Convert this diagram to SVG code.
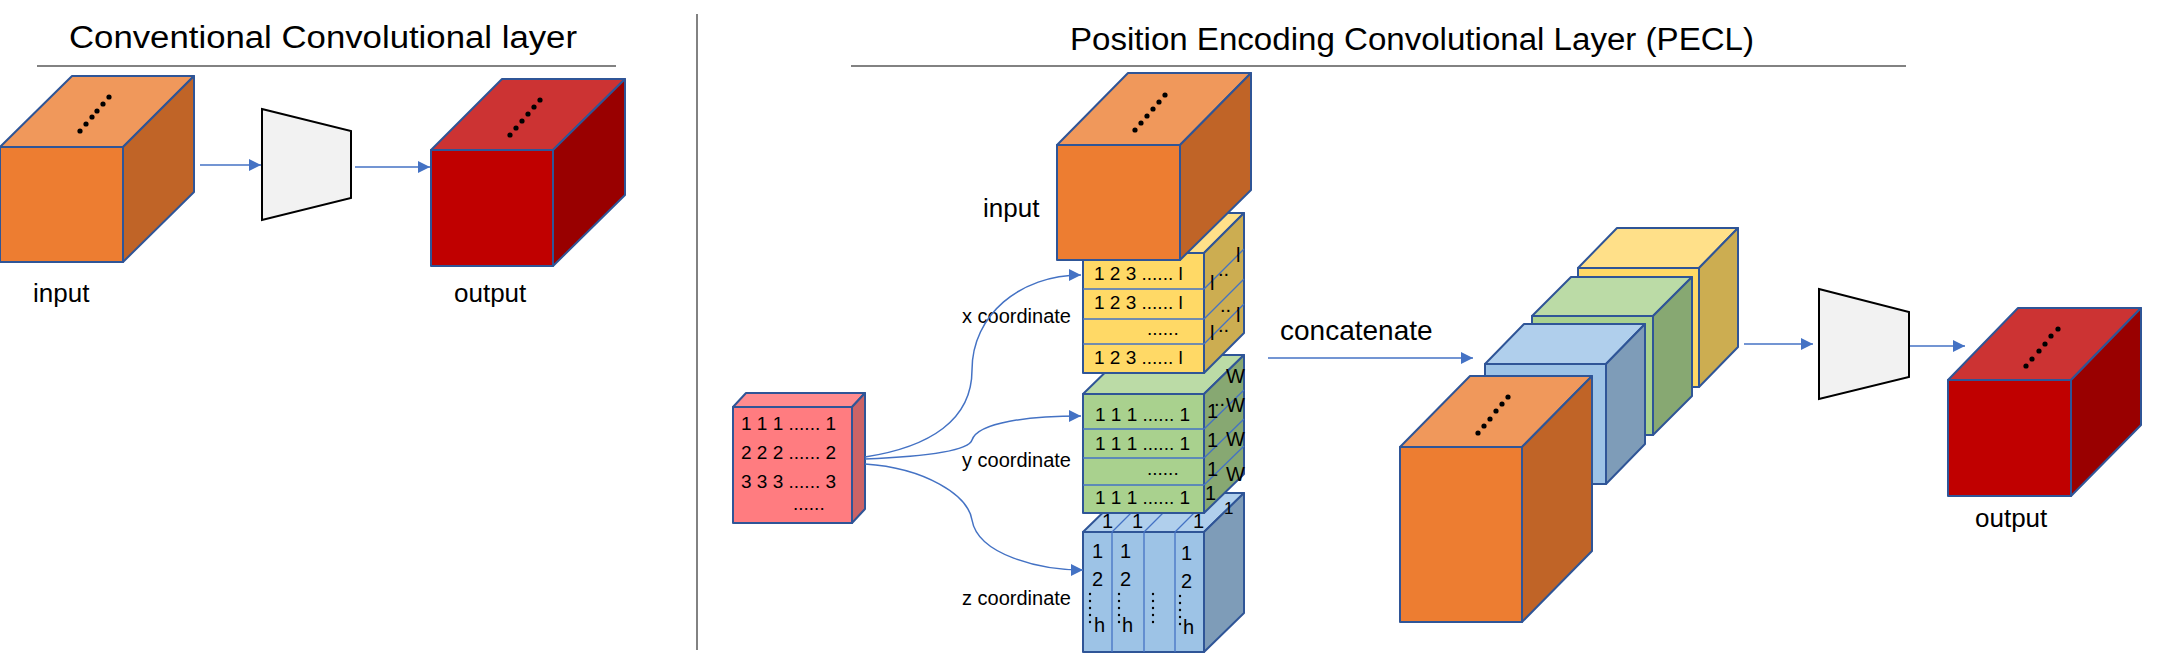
<svg xmlns="http://www.w3.org/2000/svg" width="2166" height="662" viewBox="0 0 2166 662">
<style>
text{font-family:"Liberation Sans",Arial,sans-serif;fill:#000}
.t{font-size:31px}
.lb{font-size:26px}
.sm{font-size:20px}
.cn{font-size:19px}
.s{stroke:#2F5597;stroke-width:2;stroke-linejoin:round}
.s1{stroke:#4472C4;stroke-width:1.3}
.con{fill:none;stroke:#4472C4;stroke-width:1.5}
.trap{fill:#F2F2F2;stroke:#000;stroke-width:2}
.of{fill:#ED7D31}.ot{fill:#F0985B}.os{fill:#C06427}
.rf{fill:#C00000}.rt{fill:#CC3333}.rs{fill:#990000}
.yf{fill:#FFD966}.yt{fill:#FFE089}.ys{fill:#CCAD51}
.gf{fill:#A9D18E}.gt{fill:#BBDBA6}.gs{fill:#87A872}
.bf{fill:#9DC3E6}.bt{fill:#B0CFEC}.bs{fill:#7E9CB8}
.pf{fill:#FF7C80}.pt{fill:#FF8C8F}.ps{fill:#CC6366}
.dot{fill:#000}
</style>
<defs>
<marker id="ah2" viewBox="0 0 10 10" refX="10" refY="5" markerWidth="8" markerHeight="8" orient="auto" markerUnits="strokeWidth"><path d="M0,0L10,5L0,10z" fill="#4472C4"/></marker>
</defs>

<g id="titles">
<text class="t" x="69" y="48" textLength="508" lengthAdjust="spacingAndGlyphs">Conventional Convolutional layer</text>
<line x1="37" y1="66" x2="616" y2="66" stroke="#595959" stroke-width="1.5"/>
<line x1="697" y1="14" x2="697" y2="650" stroke="#595959" stroke-width="1.5"/>
<text class="t" x="1070" y="50" textLength="684" lengthAdjust="spacingAndGlyphs">Position Encoding Convolutional Layer (PECL)</text>
<line x1="851" y1="66" x2="1906" y2="66" stroke="#595959" stroke-width="1.5"/>
</g>

<g id="left-input">
<polygon class="ot s" points="0,147 72,76 194,76 123,147"/>
<polygon class="os s" points="123,147 194,76 194,192 123,262"/>
<rect class="of s" x="0" y="147" width="123" height="115"/>
<g class="dot"><circle cx="80" cy="131" r="2.6"/><circle cx="86" cy="124" r="2.6"/><circle cx="92" cy="117" r="2.6"/><circle cx="97" cy="111" r="2.6"/><circle cx="103" cy="104" r="2.6"/><circle cx="109" cy="97" r="2.6"/></g>
<text class="lb" x="33" y="302">input</text>
</g>
<g id="left-conv"><polygon class="trap" points="262,109 351,131 351,198 262,220"/></g>
<g id="left-output">
<polygon class="rt s" points="431,150 502,79 625,79 553,150"/>
<polygon class="rs s" points="553,150 625,79 625,195 553,266"/>
<rect class="rf s" x="431" y="150" width="122" height="116"/>
<g class="dot"><circle cx="510" cy="135" r="2.6"/><circle cx="516" cy="128" r="2.6"/><circle cx="522" cy="121" r="2.6"/><circle cx="528" cy="114" r="2.6"/><circle cx="534" cy="107" r="2.6"/><circle cx="540" cy="100" r="2.6"/></g>
<text class="lb" x="454" y="302">output</text>
</g>

<g id="z-block">
<polygon class="bt s" points="1083,532 1123,493 1244,493 1204,532"/>
<polygon class="bs s" points="1204,532 1244,493 1244,613 1204,652"/>
<rect class="bf s" x="1083" y="532" width="121" height="120"/>
<g class="s1"><line x1="1112" y1="532" x2="1112" y2="652"/><line x1="1144" y1="532" x2="1144" y2="652"/><line x1="1175" y1="532" x2="1175" y2="652"/>
<line x1="1112" y1="532" x2="1151" y2="493"/><line x1="1144" y1="532" x2="1183" y2="493"/><line x1="1175" y1="532" x2="1214" y2="493"/></g>
<text class="sm" x="1102" y="528">1</text><text class="sm" x="1132" y="528">1</text><text class="sm" x="1193" y="528">1</text><text class="sm" x="1224" y="514" style="font-size:17px">1</text>
<text class="sm" x="1092" y="558">1</text><text class="sm" x="1120" y="558">1</text><text class="sm" x="1181" y="560">1</text>
<text class="sm" x="1092" y="586">2</text><text class="sm" x="1120" y="586">2</text><text class="sm" x="1181" y="588">2</text>
<text class="sm" x="1094" y="632">h</text><text class="sm" x="1122" y="632">h</text><text class="sm" x="1183" y="634">h</text>
<g class="dot"><circle cx="1090" cy="594" r="1.2"/><circle cx="1090" cy="601" r="1.2"/><circle cx="1090" cy="608" r="1.2"/><circle cx="1090" cy="615" r="1.2"/><circle cx="1090" cy="622" r="1.2"/>
<circle cx="1119" cy="594" r="1.2"/><circle cx="1119" cy="601" r="1.2"/><circle cx="1119" cy="608" r="1.2"/><circle cx="1119" cy="615" r="1.2"/><circle cx="1119" cy="622" r="1.2"/>
<circle cx="1153" cy="594" r="1.2"/><circle cx="1153" cy="601" r="1.2"/><circle cx="1153" cy="608" r="1.2"/><circle cx="1153" cy="615" r="1.2"/><circle cx="1153" cy="622" r="1.2"/>
<circle cx="1180" cy="596" r="1.2"/><circle cx="1180" cy="603" r="1.2"/><circle cx="1180" cy="610" r="1.2"/><circle cx="1180" cy="617" r="1.2"/><circle cx="1180" cy="624" r="1.2"/></g>
<text class="sm" x="1071" y="605" text-anchor="end">z coordinate</text>
</g>

<g id="y-block">
<polygon class="gt s" points="1083,394 1123,355 1244,355 1204,394"/>
<polygon class="gs s" points="1204,394 1244,355 1244,474 1204,513"/>
<rect class="gf s" x="1083" y="394" width="121" height="119"/>
<g class="s1"><line x1="1083" y1="429" x2="1204" y2="429"/><line x1="1083" y1="458" x2="1204" y2="458"/><line x1="1083" y1="485" x2="1204" y2="485"/>
<line x1="1204" y1="429" x2="1244" y2="390"/><line x1="1204" y1="458" x2="1244" y2="419"/><line x1="1204" y1="485" x2="1244" y2="446"/></g>
<text class="cn" x="1095" y="421">1 1 1 ...... 1</text>
<text class="cn" x="1095" y="450">1 1 1 ...... 1</text>
<text class="cn" x="1147" y="475">......</text>
<text class="cn" x="1095" y="504">1 1 1 ...... 1</text>
<text class="sm" x="1207" y="418">1</text><text class="sm" x="1226" y="383">W</text><text class="sm" x="1214" y="406">..</text>
<text class="sm" x="1207" y="447">1</text><text class="sm" x="1226" y="412">W</text>
<text class="sm" x="1207" y="476">1</text><text class="sm" x="1226" y="446">W</text>
<text class="sm" x="1205" y="500">1</text><text class="sm" x="1226" y="481">W</text>
<text class="sm" x="1071" y="467" text-anchor="end">y coordinate</text>
</g>

<g id="x-block">
<polygon class="yt s" points="1083,253 1123,213 1244,213 1204,253"/>
<polygon class="ys s" points="1204,253 1244,213 1244,333 1204,373"/>
<rect class="yf s" x="1083" y="253" width="121" height="120"/>
<g class="s1"><line x1="1083" y1="289" x2="1204" y2="289"/><line x1="1083" y1="319" x2="1204" y2="319"/><line x1="1083" y1="344" x2="1204" y2="344"/>
<line x1="1204" y1="289" x2="1244" y2="249"/><line x1="1204" y1="319" x2="1244" y2="279"/><line x1="1204" y1="344" x2="1244" y2="304"/></g>
<text class="cn" x="1094" y="280">1 2 3 ...... l</text>
<text class="cn" x="1094" y="309">1 2 3 ...... l</text>
<text class="cn" x="1147" y="335">......</text>
<text class="cn" x="1094" y="364">1 2 3 ...... l</text>
<text class="sm" x="1210" y="290">l</text><text class="sm" x="1236" y="262">l</text><text class="sm" x="1218" y="276">..</text>
<text class="sm" x="1220" y="312">..</text>
<text class="sm" x="1210" y="340">l</text><text class="sm" x="1236" y="322">l</text><text class="sm" x="1218" y="332">..</text>
<text class="sm" x="1071" y="323" text-anchor="end">x coordinate</text>
</g>

<g id="pe-input">
<polygon class="ot s" points="1057,145 1128,73 1251,73 1180,145"/>
<polygon class="os s" points="1180,145 1251,73 1251,190 1180,260"/>
<rect class="of s" x="1057" y="145" width="123" height="115"/>
<g class="dot"><circle cx="1135" cy="130" r="2.6"/><circle cx="1141" cy="123" r="2.6"/><circle cx="1147" cy="116" r="2.6"/><circle cx="1153" cy="109" r="2.6"/><circle cx="1159" cy="102" r="2.6"/><circle cx="1165" cy="95" r="2.6"/></g>
<text class="lb" x="983" y="217">input</text>
</g>

<g id="index-block">
<polygon class="pt s" points="733,407 746,393 865,393 852,407"/>
<polygon class="ps s" points="852,407 865,393 865,509 852,523"/>
<rect class="pf s" x="733" y="407" width="119" height="116"/>
<text class="cn" x="741" y="430">1 1 1 ...... 1</text>
<text class="cn" x="741" y="459">2 2 2 ...... 2</text>
<text class="cn" x="741" y="488">3 3 3 ...... 3</text>
<text class="cn" x="793" y="510">......</text>
</g>

<g id="stack-yellow">
<polygon class="yt s" points="1578,268 1617,228 1738,228 1699,268"/>
<polygon class="ys s" points="1699,268 1738,228 1738,347 1699,387"/>
<rect class="yf s" x="1578" y="268" width="121" height="119"/>
</g>
<g id="stack-green">
<polygon class="gt s" points="1532,316 1571,277 1692,277 1653,316"/>
<polygon class="gs s" points="1653,316 1692,277 1692,396 1653,435"/>
<rect class="gf s" x="1532" y="316" width="121" height="119"/>
</g>
<g id="stack-blue">
<polygon class="bt s" points="1485,364 1524,324 1645,324 1606,364"/>
<polygon class="bs s" points="1606,364 1645,324 1645,444 1606,484"/>
<rect class="bf s" x="1485" y="364" width="121" height="120"/>
</g>
<g id="stack-orange">
<polygon class="ot s" points="1400,447 1470,376 1592,376 1522,447"/>
<polygon class="os s" points="1522,447 1592,376 1592,551 1522,622"/>
<rect class="of s" x="1400" y="447" width="122" height="175"/>
<g class="dot"><circle cx="1478" cy="433" r="2.6"/><circle cx="1484" cy="426" r="2.6"/><circle cx="1490" cy="419" r="2.6"/><circle cx="1496" cy="411" r="2.6"/><circle cx="1502" cy="404" r="2.6"/><circle cx="1508" cy="397" r="2.6"/></g>
</g>
<g id="concat-label"><text x="1280" y="340" style="font-size:28px">concatenate</text></g>
<g id="pe-conv"><polygon class="trap" points="1819,289 1909,312 1909,377 1819,399"/></g>
<g id="pe-output">
<polygon class="rt s" points="1948,380 2018,308 2141,308 2071,380"/>
<polygon class="rs s" points="2071,380 2141,308 2141,425 2071,496"/>
<rect class="rf s" x="1948" y="380" width="123" height="116"/>
<g class="dot"><circle cx="2026" cy="366" r="2.6"/><circle cx="2032" cy="359" r="2.6"/><circle cx="2039" cy="351" r="2.6"/><circle cx="2045" cy="344" r="2.6"/><circle cx="2051" cy="336" r="2.6"/><circle cx="2058" cy="329" r="2.6"/></g>
<text class="lb" x="1975" y="527">output</text>
</g>

<g id="connectors">
<line class="con" x1="200" y1="165" x2="261" y2="165" marker-end="url(#ah2)"/>
<line class="con" x1="355" y1="167" x2="430" y2="167" marker-end="url(#ah2)"/>
<path class="con" d="M865,457 C930,447 972,420 972,370 C972,315 1020,275 1081,275" marker-end="url(#ah2)"/>
<path class="con" d="M865,459 C915,457 968,452 972,440 C978,422 1030,416 1081,416" marker-end="url(#ah2)"/>
<path class="con" d="M865,464 C925,468 968,495 972,520 C978,555 1040,570 1083,570" marker-end="url(#ah2)"/>
<line class="con" x1="1268" y1="358" x2="1473" y2="358" marker-end="url(#ah2)"/>
<line class="con" x1="1744" y1="344" x2="1813" y2="344" marker-end="url(#ah2)"/>
<line class="con" x1="1910" y1="346" x2="1965" y2="346" marker-end="url(#ah2)"/>
</g>
</svg>
